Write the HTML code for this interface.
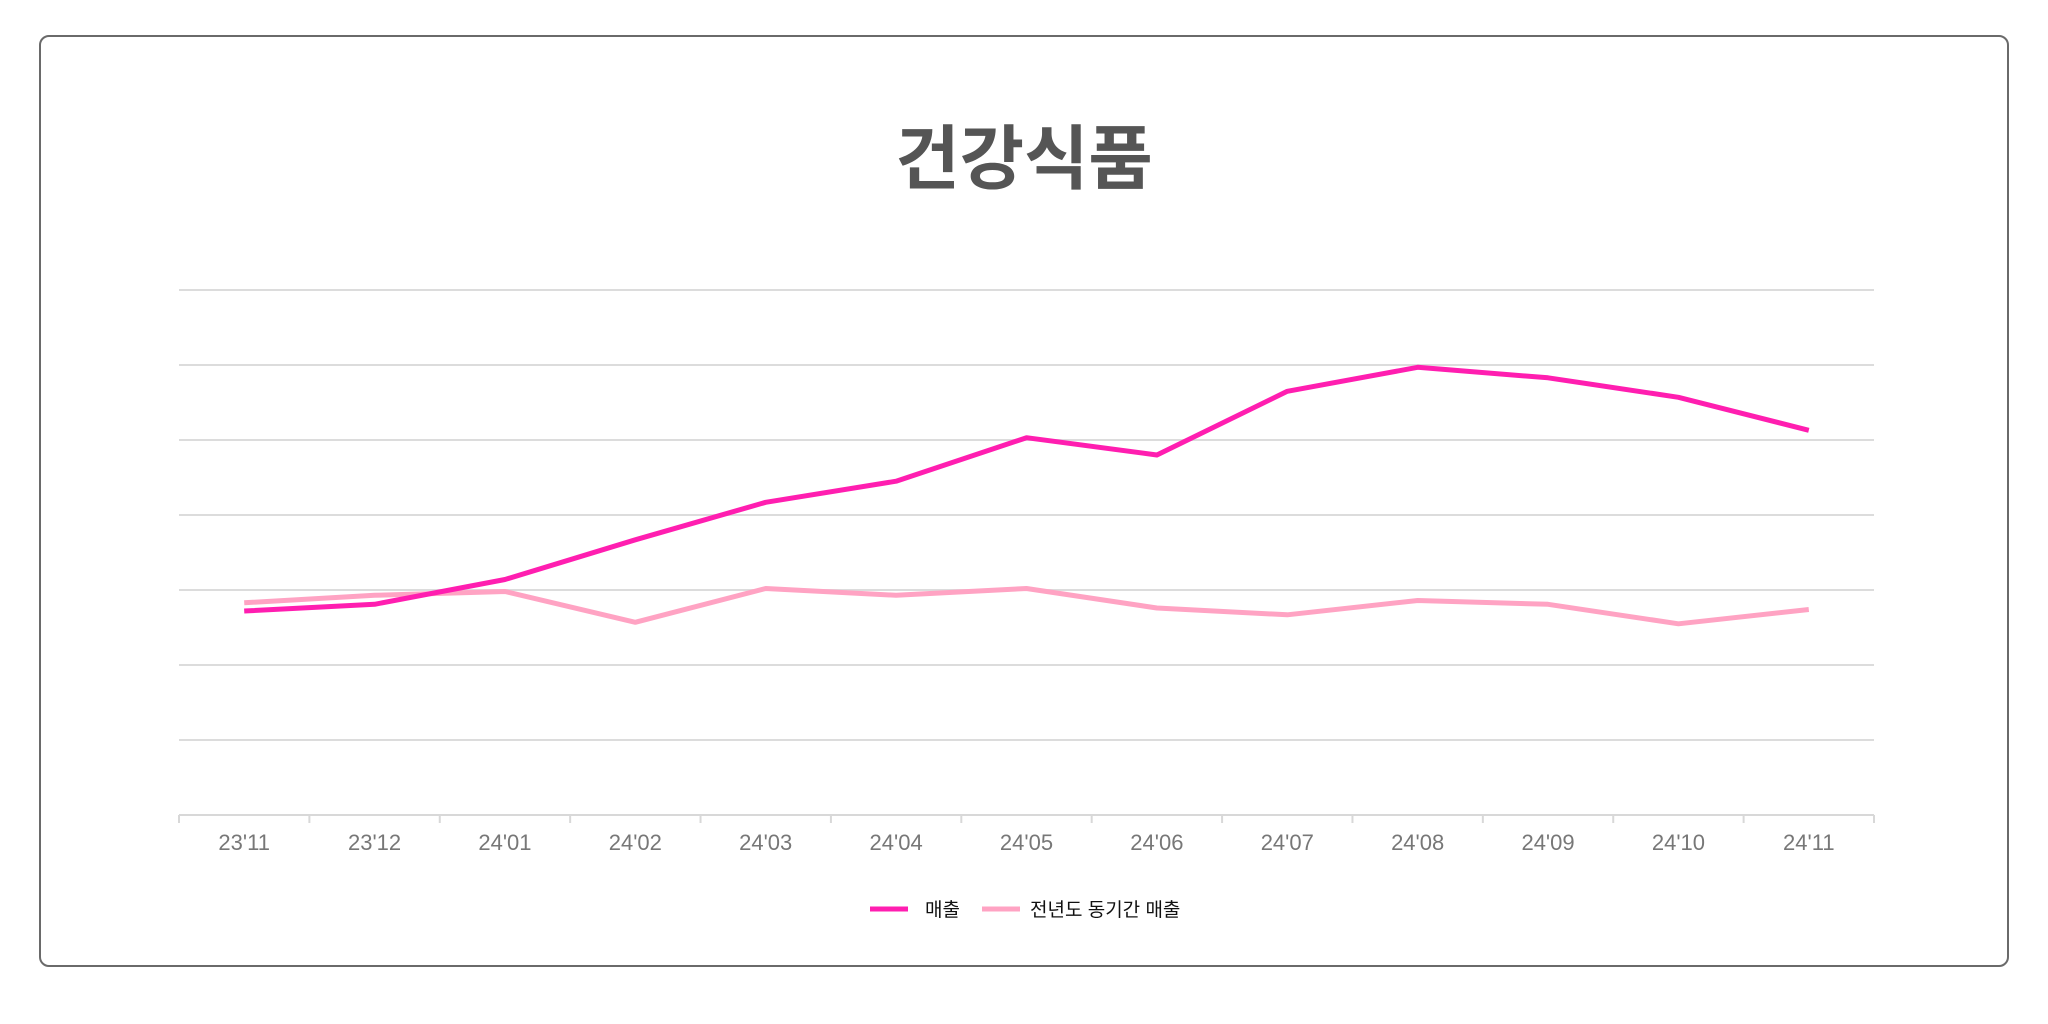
<!DOCTYPE html>
<html><head><meta charset="utf-8"><style>
html,body{margin:0;padding:0;background:#fff;width:2048px;height:1024px;overflow:hidden}
#card{position:absolute;left:39px;top:35px;width:1966px;height:928px;border:2px solid #6a6a6a;border-radius:10px;box-sizing:content-box}
svg{position:absolute;left:0;top:0}
</style></head><body>
<div id="card"></div>
<svg id="chart" width="2048" height="1024">
<text x="1024" y="183" text-anchor="middle" font-family="'Liberation Sans','Noto Sans CJK KR',sans-serif" font-weight="bold" font-size="70" fill="#555">건강식품</text>
<g id="grid"></g><g id="xaxis"></g><g id="lines"></g>
<g font-family="'Liberation Sans','Noto Sans CJK KR',sans-serif" font-size="19" fill="#111">
<line x1="870" y1="909" x2="908" y2="909" stroke="#ff1eb0" stroke-width="5"/>
<text x="925" y="916">매출</text>
<line x1="982" y1="909" x2="1020" y2="909" stroke="#ffa3c3" stroke-width="5"/>
<text x="1030" y="916">전년도 동기간 매출</text>
</g>
</svg>
<script>
const categories=["23'11","23'12","24'01","24'02","24'03","24'04","24'05","24'06","24'07","24'08","24'09","24'10","24'11"];
const sales=[2.72,2.81,3.14,3.67,4.17,4.45,5.03,4.80,5.65,5.97,5.83,5.57,5.13];
const prior=[2.83,2.93,2.98,2.57,3.02,2.93,3.02,2.76,2.67,2.86,2.81,2.55,2.74];
const yTicks=[0,1,2,3,4,5,6,7];
const NS='http://www.w3.org/2000/svg';
const L=179,R=1874,B=815,T=290,yMax=7;
const band=(R-L)/categories.length;
const x=i=>L+band*(i+0.5);
const y=v=>B-(v/yMax)*(B-T);
function mk(t,a,p){const e=document.createElementNS(NS,t);for(const k in a)e.setAttribute(k,a[k]);p.appendChild(e);return e;}
const grid=document.getElementById('grid');
yTicks.forEach(v=>{if(v===0)return;const l=mk('line',{x1:L,x2:R,y1:y(v),y2:y(v),stroke:'#dcdcdc','stroke-width':2},grid);

});
const xa=document.getElementById('xaxis');
const ax=mk('line',{x1:L,x2:R,y1:B,y2:B,stroke:'#d8d8d8','stroke-width':2},xa);


for(let i=0;i<=categories.length;i++){const t=mk('line',{x1:L+band*i,x2:L+band*i,y1:B,y2:B+8,stroke:'#d8d8d8','stroke-width':2},xa);

}
categories.forEach((c,i)=>{const t=mk('text',{x:x(i),y:850,'text-anchor':'middle','font-family':"'Liberation Sans',sans-serif",'font-size':22,fill:'#777'},xa);t.textContent=c;

});
const lg=document.getElementById('lines');
function path(d){return d.map((v,i)=>(i?'L':'M')+x(i).toFixed(1)+','+y(v).toFixed(1)).join('');}
const p2=mk('path',{d:path(prior),fill:'none',stroke:'#ffa3c3','stroke-width':5,'stroke-linejoin':'round'},lg);


const p1=mk('path',{d:path(sales),fill:'none',stroke:'#ff1eb0','stroke-width':5,'stroke-linejoin':'round'},lg);


</script>
</body></html>
